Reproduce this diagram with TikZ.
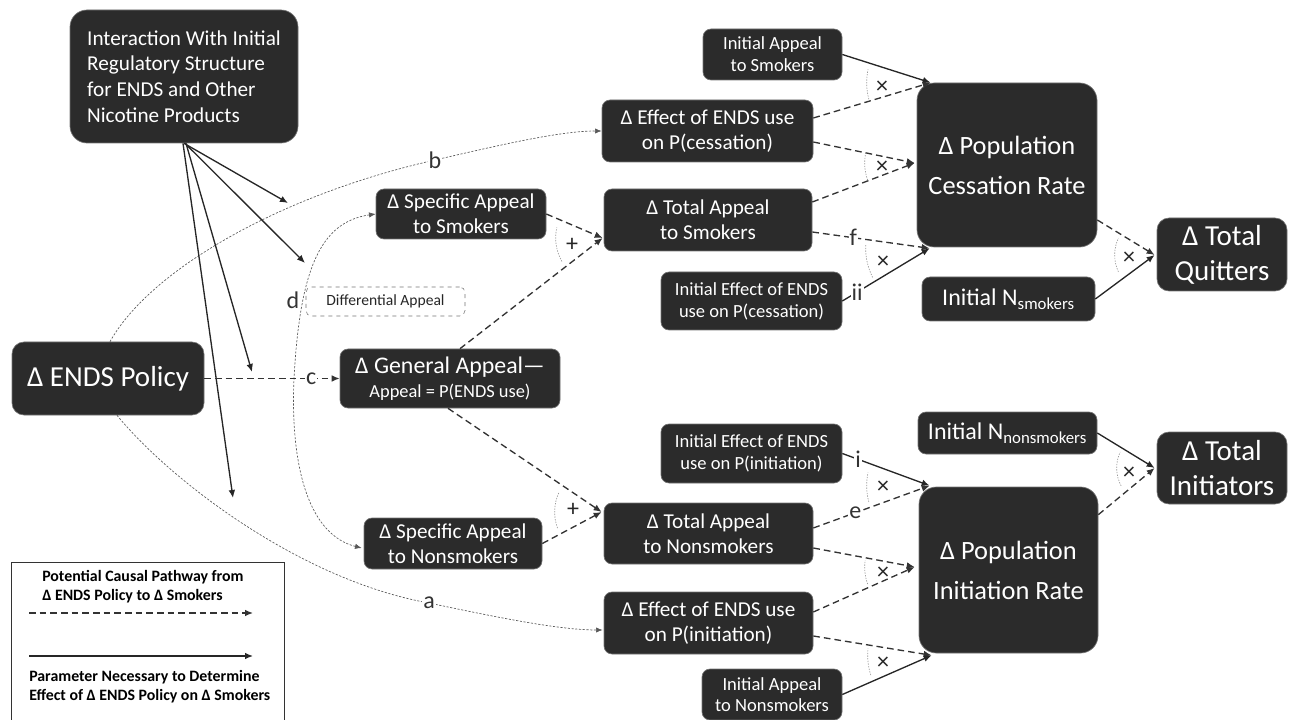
\documentclass[tikz,border=0pt]{standalone}
\usepackage{fontspec}
\setmainfont{Carlito}
\usetikzlibrary{arrows.meta,calc}
\newcommand\szInter{\fontsize{15.9}{19.3}\selectfont}
\newcommand\szMed{\fontsize{15.9}{19}\selectfont}
\newcommand\szSmall{\fontsize{13.9}{16.3}\selectfont}
\newcommand\szN{\fontsize{18}{21}\selectfont}
\newcommand\szPop{\fontsize{19.8}{30}\selectfont}
\newcommand\szTot{\fontsize{21.75}{26.25}\selectfont}
\newcommand\szEnds{\fontsize{21.75}{26}\selectfont}
\newcommand\szLeg{\bfseries\fontsize{11.9}{14.3}\selectfont}
\newcommand\szDiff{\fontsize{11.7}{14}\selectfont}
\newcommand\szLbl{\fontsize{18}{21}\selectfont}
\newcommand\szSym{\fontsize{18}{21}\selectfont}
\begin{document}
\begin{tikzpicture}[x=0.75pt,y=-0.75pt,
  blk/.style={draw=black!55, fill=black!83, text=white, rounded corners=6pt, align=center, inner sep=0pt, line width=0.5pt},
  dsh/.style={draw=black!80, line width=1pt, dash pattern=on 5pt off 3pt, -{Latex[length=6pt,width=5pt]}},
  sld/.style={draw=black!85, line width=1pt, -{Latex[length=6pt,width=5pt]}},
  fine/.style={draw=black!65, line width=0.5pt, dash pattern=on 1.6pt off 1.2pt, -{Latex[length=5pt,width=4pt]}},
  mk/.style={draw=black!40, line width=0.5pt, dash pattern=on 1pt off 1pt},
  lbl/.style={fill=white, inner sep=0.8pt, font=\szLbl, text=black!80},
  sym/.style={font=\szSym, text=black!85, inner sep=0pt},
  leg/.style={font=\szLeg, inner sep=0pt, anchor=base west}]
\useasboundingbox (0,0) rectangle (1289,720);
\clip (0,0) rectangle (1289,720);

% ---------------- boxes
\node[blk, rounded corners=12.75pt, minimum width=171pt, minimum height=99.75pt, align=left, font=\szInter] (inter) at (184,76.5)
  {Interaction With Initial\\Regulatory Structure\\for ENDS and Other\\Nicotine Products};
\node[blk, rounded corners=9pt, minimum width=144pt, minimum height=54.75pt, font=\szEnds] (ends) at (108,378.5) {Δ ENDS Policy};
\node[blk, minimum width=127.5pt, minimum height=37.5pt, font=\szMed] (specS) at (461,214) {Δ Specific Appeal\\to Smokers};
\node[draw=black!55, dashed, rounded corners=4pt, minimum width=119.25pt, minimum height=21.75pt, inner sep=0pt, font=\szDiff, text=black!85] (diff) at (385.5,301.5) {Differential Appeal};
\node[blk, minimum width=165pt, minimum height=44.25pt, font=\fontsize{13.8}{18}\selectfont] (gen) at (450,378.5)
  {{\fontsize{17.9}{18}\selectfont Δ General Appeal—}\\{\fontsize{13.8}{18}\selectfont Appeal = P(ENDS use)}};
\node[blk, minimum width=133.5pt, minimum height=38.25pt, font=\szMed] (specN) at (453,543.5) {Δ Specific Appeal\\to Nonsmokers};
\node[blk, minimum width=158.25pt, minimum height=46.5pt, font=\szMed] (effC) at (707.5,131) {Δ Effect of ENDS use\\on P(cessation)};
\node[blk, minimum width=156pt, minimum height=46.5pt, font=\szMed] (tasS) at (708,220) {Δ Total Appeal\\to Smokers};
\node[blk, minimum width=104.25pt, minimum height=38.25pt, font=\szSmall] (iaS) at (772.5,54.5) {Initial Appeal\\to Smokers};
\node[blk, minimum width=135.75pt, minimum height=43.5pt, font=\szSmall] (ieC) at (751.5,301) {Initial Effect of ENDS\\use on P(cessation)};
\node[blk, rounded corners=13pt, minimum width=135pt, minimum height=123pt, font=\szPop] (popC) at (1007,165) {Δ Population\\Cessation Rate};
\node[blk, minimum width=129.75pt, minimum height=33pt, font=\szN] (nS) at (1008.5,299) {Initial N\textsubscript{smokers}};
\node[blk, rounded corners=9pt, minimum width=97.5pt, minimum height=54.75pt, font=\szTot] (tq) at (1222,254.5) {Δ Total\\Quitters};
\node[blk, minimum width=135.75pt, minimum height=44.25pt, font=\szSmall] (ieI) at (751.5,453.5) {Initial Effect of ENDS\\use on P(initiation)};
\node[blk, minimum width=156.75pt, minimum height=45.75pt, font=\szMed] (tasN) at (708.5,533.5) {Δ Total Appeal\\to Nonsmokers};
\node[blk, minimum width=156.75pt, minimum height=46.5pt, font=\szMed] (effI) at (708.5,623) {Δ Effect of ENDS use\\on P(initiation)};
\node[blk, minimum width=105pt, minimum height=38.25pt, font=\szSmall] (iaN) at (772,694.5) {Initial Appeal\\to Nonsmokers};
\node[blk, rounded corners=13pt, minimum width=134.25pt, minimum height=124.5pt, font=\szPop] (popI) at (1008.5,570) {Δ Population\\Initiation Rate};
\node[blk, minimum width=134.25pt, minimum height=31.5pt, font=\szN] (nN) at (1007.5,433) {Initial N\textsubscript{nonsmokers}};
\node[blk, rounded corners=9pt, minimum width=97.5pt, minimum height=54pt, font=\szTot] (ti) at (1222,468) {Δ Total\\Initiators};

% ---------------- arrow tip points
\coordinate (tAS) at ($(tasS.west)+(-1,18)$);
\coordinate (tAN) at ($(tasN.west)+(-2,-21.5)$);
\coordinate (tC1) at ($(popC.north west)+(14,0)$);
\coordinate (tC2) at ($(popC.west)+(-2,-2)$);
\coordinate (tC3) at ($(popC.south west)+(13,1)$);
\coordinate (tQ)  at ($(tq.west)+(-2,0.5)$);
\coordinate (tI1) at ($(popI.north west)+(11,-1)$);
\coordinate (tI2) at ($(popI.west)+(-4,-3)$);
\coordinate (tI3) at ($(popI.south west)+(13,2)$);
\coordinate (tT)  at ($(ti.west)+(-2,0)$);

% free ends of regulatory-structure arrows
\coordinate (r1) at (288,203);
\coordinate (r2) at (305,263);
\coordinate (r3) at (252,372);
\coordinate (r4) at (233,498);

% ---------------- fine pathways a, b, d
\draw[fine] ($(ends.north)+(2,0)$) .. controls (150,270) and (280,195) .. (435,160)
  node[lbl] (lb) {b} .. controls (500,145) and (560,131) .. (effC.west);
\draw[fine] ($(ends.south)+(9,0)$) .. controls (170,480) and (300,580) .. (429,603)
  node[lbl] (la) {a} .. controls (500,618) and (560,630) .. ($(effI.west)+(-1,7)$);
\draw[fine,{Latex[length=5pt,width=4pt]}-{Latex[length=5pt,width=4pt]}] (specS.west) .. controls (320,222) and (300,270) .. (294,378)
  .. controls (290,470) and (310,535) .. ($(specN.west)+(-2,4.5)$);
\node[font=\szLbl, text=black!80, inner sep=0pt] (ld) at (293,300) {d};

% ---------------- regulatory structure arrows
\draw[sld] (inter.south) -- (r1);
\draw[sld] ($(inter.south)+(1,0)$) -- (r2);
\draw[sld] ($(inter.south)+(2,0)$) -- (r3);
\draw[sld] ($(inter.south)+(-1,0)$) -- (r4);

% ---------------- main pathway
\draw[dsh] (ends.east) -- node[lbl,pos=0.79] (lc) {c} (gen.west);
\draw[dsh] (specS.east) -- (tAS);
\draw[dsh] ($(gen.north)+(10,0)$) -- (tAS);
\draw[dsh] ($(gen.south)+(-2,0)$) -- (tAN);
\draw[dsh] (specN.east) -- (tAN);

% cessation side
\draw[sld] (iaS.east) -- (tC1);
\draw[dsh] ($(effC.east)+(0,-13)$) -- (tC1);
\draw[dsh] ($(effC.east)+(0,11)$) -- (tC2);
\draw[dsh] ($(tasS.east)+(0,-18)$) -- (tC2);
\draw[dsh] ($(tasS.east)+(0,12)$) -- node[lbl,pos=0.35] (lf) {f} (tC3);
\draw[sld] (ieC.east) -- node[lbl,pos=0.17] (lii) {ii} (tC3);
\draw[dsh] ($(popC.east)+(0,55)$) -- (tQ);
\draw[sld] (nS.east) -- (tQ);

% initiation side
\draw[sld] (ieI.east) -- node[lbl,pos=0.18] (li) {i} (tI1);
\draw[dsh] ($(tasN.east)+(0,-5.5)$) -- node[lbl,pos=0.36] (le) {e} (tI1);
\draw[dsh] ($(tasN.east)+(0,14.5)$) -- (tI2);
\draw[dsh] ($(effI.east)+(0,-11)$) -- (tI2);
\draw[dsh] ($(effI.east)+(0,13)$) -- (tI3);
\draw[sld] (iaN.east) -- (tI3);
\draw[dsh] ($(popI.north east)+(0,28)$) -- (tT);
\draw[sld] (nN.east) -- (tT);

% ---------------- combination marks
\draw[mk] (tAS) ++(150:47) arc[start angle=150, end angle=193, radius=47];
\draw[mk] (tAN) ++(160:47) arc[start angle=160, end angle=204, radius=47];
\draw[mk] (tC1) ++(165:64) arc[start angle=165, end angle=192, radius=64];
\draw[mk] (tC2) ++(160:50) arc[start angle=160, end angle=192, radius=50];
\draw[mk] (tC3) ++(153:64) arc[start angle=153, end angle=183, radius=64];
\draw[mk] (tQ) ++(155:40) arc[start angle=155, end angle=205, radius=40];
\draw[mk] (tI1) ++(165:63) arc[start angle=165, end angle=192, radius=63];
\draw[mk] (tI2) ++(160:50) arc[start angle=160, end angle=188, radius=50];
\draw[mk] (tI3) ++(162:64) arc[start angle=162, end angle=186, radius=64];
\draw[mk] (tT) ++(152:38) arc[start angle=152, end angle=205, radius=38];

\node[sym] (pS) at (572,245) {+};
\node[sym] (pN) at (573,510) {+};
\node[sym] (x1) at (882,87) {×};
\node[sym] (x2) at (882,167) {×};
\node[sym] (x3) at (883,262) {×};
\node[sym] (x4) at (1129,258) {×};
\node[sym] (x5) at (883,487) {×};
\node[sym] (x6) at (883,573) {×};
\node[sym] (x7) at (883,663) {×};
\node[sym] (x8) at (1129,473) {×};

% ---------------- legend
\node[draw=black!80, line width=1pt, minimum width=204.75pt, minimum height=126pt, inner sep=0pt, anchor=north west] (legend) at (11,562) {};
\node[leg] (lg1) at (42,581) {Potential Causal Pathway from};
\node[leg] (lg2) at (42,600) {Δ ENDS Policy to Δ Smokers};
\coordinate (ld1) at (29,613);
\coordinate (ld2) at (253,613);
\coordinate (ls1) at (29,656);
\coordinate (ls2) at (253,656);
\draw[dsh] (ld1) -- (ld2);
\draw[sld] (ls1) -- (ls2);
\node[leg] (lg3) at (29,681) {Parameter Necessary to Determine};
\node[leg] (lg4) at (29,700) {Effect of Δ ENDS Policy on Δ Smokers};
\end{tikzpicture}
\end{document}
